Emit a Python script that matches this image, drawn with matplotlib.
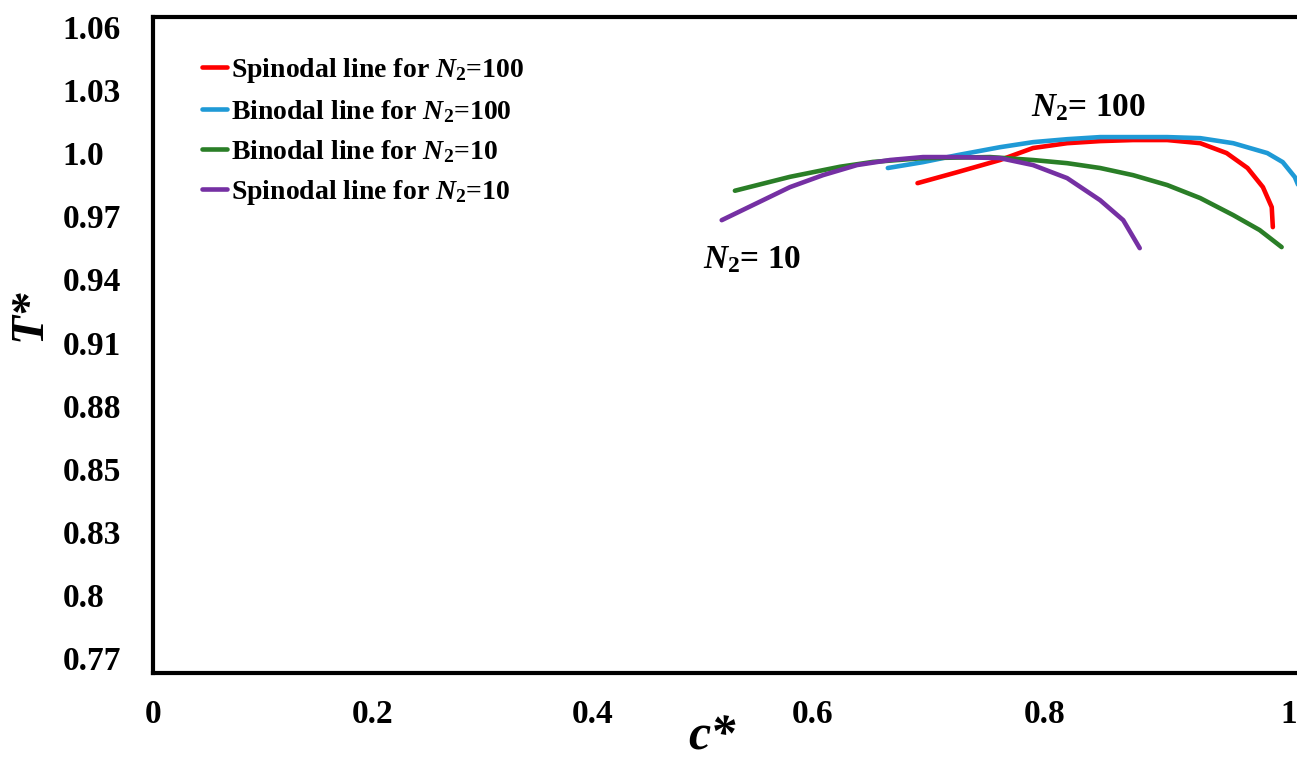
"""Spinodal and binodal lines for two chain lengths."""

import matplotlib

matplotlib.use("Agg")
import matplotlib.pyplot as plt

plt.rcParams["font.family"] = ["Liberation Serif", "DejaVu Serif"]
plt.rcParams["font.weight"] = "bold"
plt.rcParams["mathtext.fontset"] = "custom"
plt.rcParams["mathtext.rm"] = "Liberation Serif:bold"
plt.rcParams["mathtext.it"] = "Liberation Serif:italic:bold"
plt.rcParams["mathtext.bf"] = "Liberation Serif:bold"

# values (T* on the picture's own evenly spaced scale)
spinodal_100_c = [0.695, 0.731, 0.770, 0.800, 0.831, 0.861, 0.891, 0.922, 0.952, 0.976, 0.995, 1.009, 1.017, 1.018]
spinodal_100_t = [0.9858, 0.9910, 0.9968, 1.0025, 1.0048, 1.0058, 1.0063, 1.0063, 1.0048, 1.0001, 0.9930, 0.9839, 0.9744, 0.9649]

binodal_100_c = [0.668, 0.700, 0.731, 0.770, 0.800, 0.831, 0.861, 0.891, 0.922, 0.952, 0.982, 1.013, 1.027, 1.038, 1.043]
binodal_100_t = [0.9930, 0.9958, 0.9991, 1.0029, 1.0053, 1.0067, 1.0077, 1.0077, 1.0077, 1.0072, 1.0048, 1.0001, 0.9958, 0.9887, 0.9825]

binodal_10_c = [0.529, 0.579, 0.6245, 0.6545, 0.700, 0.761, 0.800, 0.831, 0.861, 0.891, 0.922, 0.952, 0.982, 1.006, 1.026]
binodal_10_t = [0.9822, 0.9888, 0.9936, 0.9959, 0.9977, 0.9982, 0.9968, 0.9953, 0.9930, 0.9896, 0.9849, 0.9787, 0.9706, 0.9635, 0.9554]

spinodal_10_c = [0.517, 0.549, 0.579, 0.609, 0.640, 0.670, 0.700, 0.731, 0.770, 0.800, 0.831, 0.861, 0.882, 0.897]
spinodal_10_t = [0.9682, 0.9763, 0.9839, 0.9896, 0.9944, 0.9968, 0.9982, 0.9982, 0.9977, 0.9944, 0.9882, 0.9777, 0.9682, 0.9549]

x_tick_pos = [0, 0.2, 0.4, 0.6, 0.811, 1.032]
x_tick_labels = ["0", "0.2", "0.4", "0.6", "0.8", "1"]
y_tick_pos = [1.06, 1.03, 1.00, 0.97, 0.94, 0.91, 0.88, 0.85, 0.82, 0.79, 0.76]
y_tick_labels = ["1.06", "1.03", "1.0", "0.97", "0.94", "0.91", "0.88", "0.85", "0.83", "0.8", "0.77"]

series = [
    (spinodal_100_c, spinodal_100_t, "#FF0000", r"Spinodal line for $N_{\mathrm{2}}$=100"),
    (binodal_100_c, binodal_100_t, "#1F9AD6", r"Binodal line for $N_{\mathrm{2}}$=100"),
    (binodal_10_c, binodal_10_t, "#2A7E27", r"Binodal line for $N_{\mathrm{2}}$=10"),
    (spinodal_10_c, spinodal_10_t, "#7530A3", r"Spinodal line for $N_{\mathrm{2}}$=10"),
]

fig = plt.figure(figsize=(12.97, 7.62), dpi=100)
ax = fig.add_axes([153 / 1297, 1 - 673 / 762, 1147 / 1297, 656 / 762])

for c_vals, t_vals, color, label in series:
    ax.plot(c_vals, t_vals, color=color, lw=3.3, solid_capstyle="round",
            solid_joinstyle="round", label=label)

ax.set_xlim(0, 1.0427)
ax.set_ylim(0.7529, 1.0648)
ax.set_xticks(x_tick_pos)
ax.set_xticklabels(x_tick_labels)
ax.set_yticks(y_tick_pos)
ax.set_yticklabels(y_tick_labels)
ax.tick_params(axis="both", length=0, labelsize=24)
ax.tick_params(axis="x", pad=19)
ax.tick_params(axis="y", pad=65)
for label in ax.get_yticklabels():
    label.set_horizontalalignment("left")

for side in ["left", "bottom", "top"]:
    ax.spines[side].set_linewidth(3.0)
ax.spines["right"].set_visible(False)

ax.legend(
    loc="upper left",
    bbox_to_anchor=(0.043, 0.941),
    frameon=False,
    fontsize=20,
    handlelength=0.9,
    handletextpad=0.15,
    labelspacing=0.47,
    borderpad=0,
    borderaxespad=0,
)

ax.text(0.8505, 1.0215, r"$N_{\mathrm{2}}$= 100", fontsize=24, ha="center", va="center")
ax.text(0.5445, 0.9495, r"$N_{\mathrm{2}}$= 10", fontsize=24, ha="center", va="center")

fig.text(30 / 1297, 1 - 315 / 762, "T*", fontsize=34, style="italic", rotation=90,
         ha="center", va="center")
fig.text(712 / 1297, 1 / 762, "c*", fontsize=36, style="italic", ha="center", va="bottom")

fig.savefig("out.png", dpi=100)
plt.close(fig)
